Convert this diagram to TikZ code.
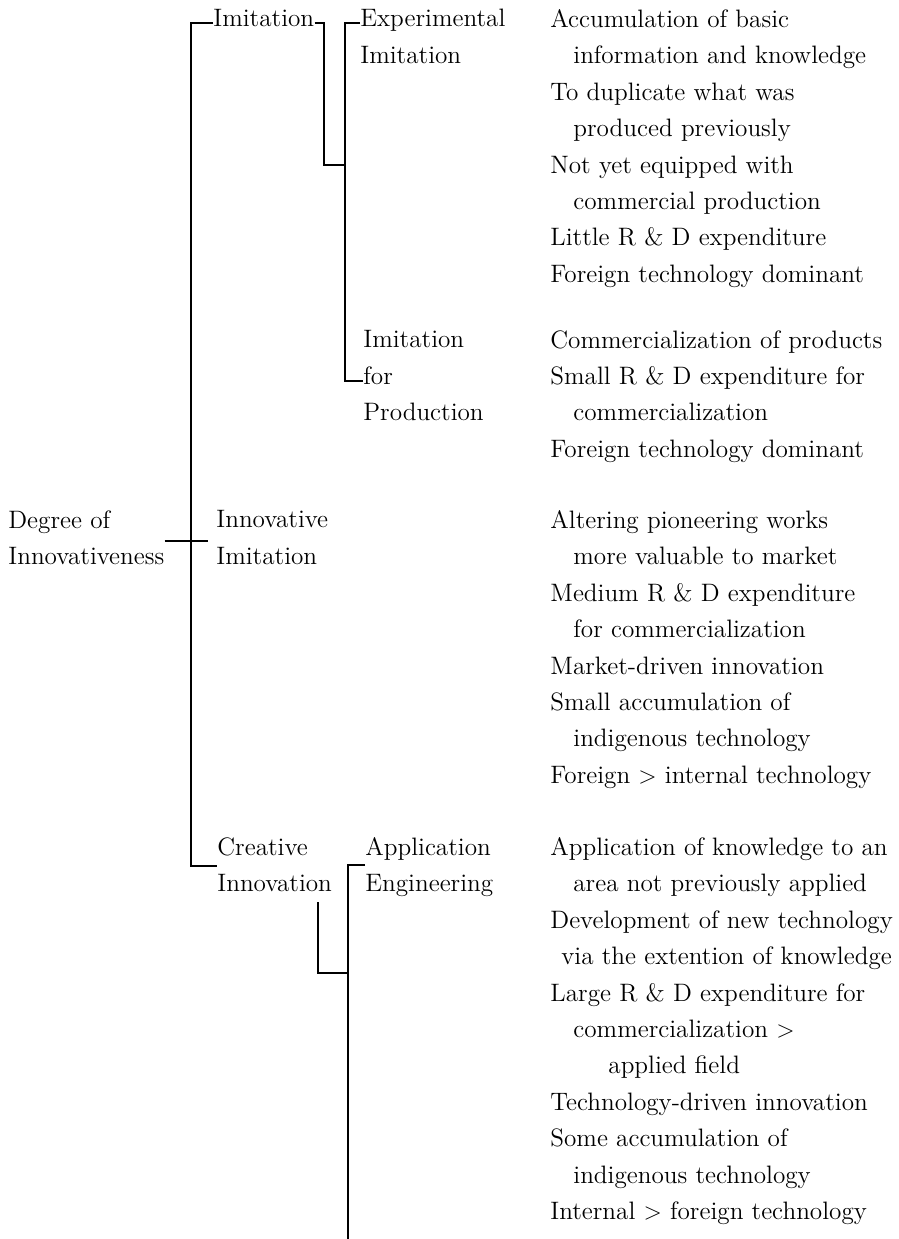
\documentclass[tikz,border=0pt]{standalone}
\usepackage{tikz}
\usetikzlibrary{positioning}

\begin{document}
\begin{tikzpicture}[
    x=0.5pt, y=-0.5pt,
    term/.style={anchor=north west, inner sep=0pt, align=left, font=\fontsize{12.6}{18.2}\selectfont},
    desc/.style={anchor=north west, inner sep=0pt, align=left, font=\fontsize{12.6}{18.2}\selectfont},
    branch/.style={line width=0.6pt, black}
]
    \useasboundingbox (0,0) rectangle (899,1239);

    \node (deg) [term] at (8,510) {Degree of\\Innovativeness};
    \node (imi) [term] at (213,9) {Imitation};
    \node (expimi) [term] at (360,9) {Experimental\\Imitation};
    \node (imiprod) [term] at (363,330) {Imitation\\for\\Production};
    \node (innimi) [term] at (216,510) {Innovative\\Imitation};
    \node (creinn) [term] at (217,837) {Creative\\Innovation};
    \node (appeng) [term] at (365,837) {Application\\Engineering};

    \node (expdesc) [desc] at (550,9) {Accumulation of basic\\
        \hspace*{11.5pt}information and knowledge\\
        To duplicate what was\\
        \hspace*{11.5pt}produced previously\\
        Not yet equipped with\\
        \hspace*{11.5pt}commercial production\\
        Little R \& D expenditure\\
        Foreign technology dominant};
    \node (proddesc) [desc] at (550,330) {Commercialization of products\\
        Small R \& D expenditure for\\
        \hspace*{11.5pt}commercialization\\
        Foreign technology dominant};
    \node (innimidesc) [desc] at (550,510) {Altering pioneering works\\
        \hspace*{11.5pt}more valuable to market\\
        Medium R \& D expenditure\\
        \hspace*{11.5pt}for commercialization\\
        Market-driven innovation\\
        Small accumulation of\\
        \hspace*{11.5pt}indigenous technology\\
        Foreign $>$ internal technology};
    \node (appdesc) [desc] at (550,837) {Application of knowledge to an\\
        \hspace*{11.5pt}area not previously applied\\
        Development of new technology\\
        \hspace*{5.5pt}via the extention of knowledge\\
        Large R \& D expenditure for\\
        \hspace*{11.5pt}commercialization $>$\\
        \hspace*{29pt}applied field\\
        Technology-driven innovation\\
        Some accumulation of\\
        \hspace*{11.5pt}indigenous technology\\
        Internal $>$ foreign technology};

    \coordinate (trunktop) at (191,23);
    \coordinate (trunkbot) at (191,866);
    \coordinate (cross) at (191,541);
    \coordinate (imiturn) at (324,23);
    \coordinate (sub1top) at (345,23);
    \coordinate (sub1join) at (345,165);
    \coordinate (sub1bot) at (345,381);
    \coordinate (sub2top) at (348,865);
    \coordinate (sub2join) at (348,973);
    \coordinate (sub2bot) at (348,1239);
    \coordinate (innleg) at (318,902);

    \draw [branch] (imi.west |- trunktop) -- (trunktop) -- (trunkbot) -- (creinn.west |- trunkbot);
    \draw [branch] (deg.east |- cross) -- ([xshift=-4pt]innimi.west |- cross);
    \draw [branch] (imi.east |- imiturn) -- (imiturn) |- (sub1join);
    \draw [branch] (expimi.west |- sub1top) -- (sub1top) -- (sub1bot) -- (imiprod.west |- sub1bot);
    \draw [branch] (appeng.west |- sub2top) -- (sub2top) -- (sub2bot);
    \draw [branch] (innleg) |- (sub2join);
\end{tikzpicture}
\end{document}
